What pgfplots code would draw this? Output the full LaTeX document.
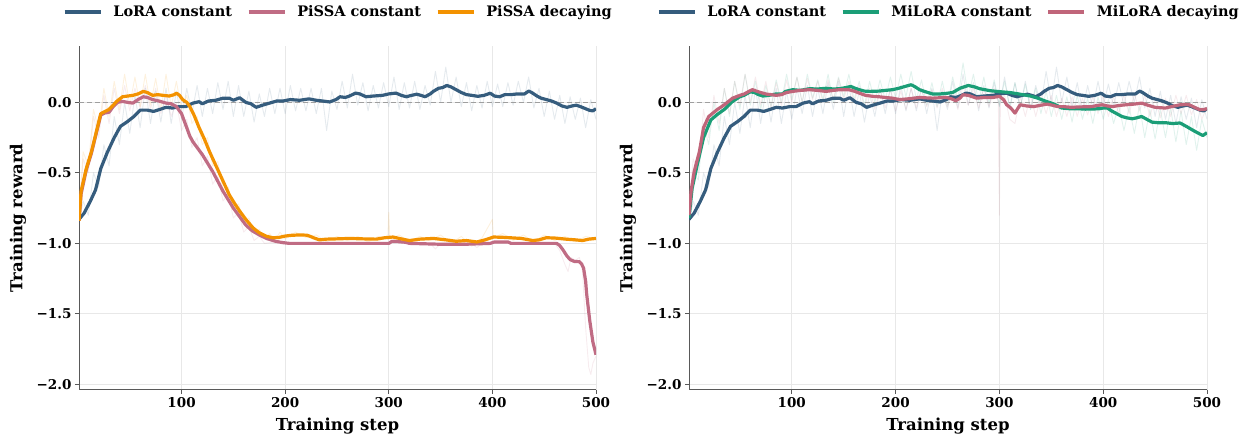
\documentclass[border=0pt]{standalone}
\usepackage{fontspec}
\setmainfont{DejaVu Serif}
\usepackage{pgfplots}
\pgfplotsset{compat=1.18}
\usepackage{pgfplotstable}

\definecolor{cLoRA}{HTML}{355C7D}
\definecolor{cPiSSA}{HTML}{C06C84}
\definecolor{cDecay}{HTML}{F39200}
\definecolor{cMiLoRA}{HTML}{1B9E77}
\definecolor{cMiDec}{HTML}{C0657A}

% smoothed curves
\pgfplotstableread{
step val
1 -0.83
6 -0.785
12 -0.70
17 -0.62
22 -0.47
28 -0.36
35 -0.25
41 -0.17
48 -0.135
54 -0.10
60 -0.055
67 -0.055
73 -0.064
79 -0.05
85 -0.035
91 -0.04
98 -0.03
104 -0.03
111 -0.005
117 0.005
120 -0.01
126 0.01
133 0.015
140 0.03
146 0.03
150 0.015
156 0.033
162 0.0
167 -0.01
172 -0.035
178 -0.02
185 -0.005
192 0.01
198 0.01
205 0.02
214 0.015
223 0.025
230 0.015
236 0.01
243 0.003
249 0.02
253 0.04
258 0.035
262 0.045
268 0.066
272 0.06
278 0.04
285 0.045
294 0.05
300 0.06
307 0.066
312 0.05
317 0.04
322 0.05
327 0.058
331 0.05
335 0.04
340 0.06
343 0.078
348 0.10
352 0.105
356 0.12
360 0.11
365 0.09
370 0.07
375 0.055
380 0.05
386 0.043
392 0.05
398 0.065
402 0.045
407 0.04
412 0.055
418 0.055
424 0.06
431 0.06
435 0.08
438 0.07
443 0.045
447 0.03
452 0.02
457 0.01
462 -0.005
467 -0.025
472 -0.035
477 -0.025
481 -0.02
485 -0.03
490 -0.045
494 -0.057
497 -0.06
500 -0.045
}\tLoRA

\pgfplotstableread{
step val
1 -0.84
3 -0.63
8 -0.47
13 -0.35
18 -0.20
22 -0.08
26 -0.065
30 -0.05
34 -0.02
37 0.005
43 0.04
48 0.045
53 0.05
58 0.06
63 0.078
67 0.07
72 0.05
77 0.055
82 0.05
88 0.045
93 0.055
95 0.066
98 0.05
101 0.02
105 0.0
108 -0.03
112 -0.09
117 -0.18
122 -0.26
127 -0.35
132 -0.43
137 -0.51
142 -0.59
146 -0.655
151 -0.715
156 -0.77
162 -0.83
169 -0.89
175 -0.925
182 -0.95
188 -0.96
194 -0.958
200 -0.948
206 -0.943
214 -0.94
221 -0.942
224 -0.95
228 -0.962
233 -0.975
240 -0.97
250 -0.968
262 -0.965
275 -0.968
288 -0.97
296 -0.96
304 -0.955
312 -0.968
320 -0.98
330 -0.97
343 -0.965
355 -0.975
365 -0.985
375 -0.98
385 -0.99
393 -0.975
401 -0.955
410 -0.957
417 -0.96
428 -0.965
439 -0.98
445 -0.975
452 -0.96
460 -0.962
471 -0.97
480 -0.975
487 -0.98
493 -0.97
500 -0.965
}\tPiDec

\pgfplotstableread{
step val
1 -0.84
3 -0.65
8 -0.48
13 -0.36
18 -0.21
22 -0.09
26 -0.075
30 -0.07
34 -0.03
38 0.0
43 0.007
48 0.0
53 -0.005
58 0.02
63 0.04
67 0.035
72 0.02
78 0.01
85 -0.005
90 -0.01
95 -0.03
100 -0.08
104 -0.16
108 -0.24
111 -0.28
115 -0.32
120 -0.37
125 -0.43
130 -0.49
135 -0.56
140 -0.63
145 -0.69
150 -0.75
156 -0.81
162 -0.87
168 -0.91
175 -0.94
182 -0.965
191 -0.986
198 -0.995
204 -1.0
300 -1.0
303 -0.986
310 -0.988
316 -0.992
320 -1.0
349 -1.006
375 -1.006
398 -1.0
402 -0.99
415 -0.99
418 -1.0
462 -1.0
465 -1.015
468 -1.045
472 -1.09
475 -1.115
479 -1.128
484 -1.13
486 -1.145
488 -1.175
490 -1.27
491 -1.36
494 -1.55
497 -1.70
500 -1.79
}\tPiCon

\pgfplotstableread{
step val
1 -0.82
4 -0.61
9 -0.44
15 -0.25
22 -0.125
28 -0.087
35 -0.05
43 0.007
50 0.04
54 0.05
60 0.075
64 0.07
68 0.055
72 0.045
78 0.05
85 0.06
91 0.06
94 0.078
101 0.09
108 0.085
117 0.097
125 0.095
133 0.10
140 0.095
146 0.097
152 0.105
157 0.113
161 0.1
165 0.09
170 0.08
175 0.078
184 0.08
190 0.085
197 0.09
203 0.1
210 0.115
215 0.125
219 0.11
223 0.09
229 0.075
236 0.059
243 0.06
249 0.064
255 0.07
262 0.10
266 0.11
270 0.12
276 0.11
281 0.097
286 0.09
291 0.083
300 0.076
310 0.07
317 0.062
323 0.054
330 0.045
337 0.03
344 0.01
350 -0.005
355 -0.02
360 -0.04
368 -0.045
376 -0.045
383 -0.048
390 -0.047
396 -0.045
400 -0.04
404 -0.04
408 -0.06
413 -0.08
418 -0.10
423 -0.11
428 -0.116
432 -0.11
437 -0.10
442 -0.12
447 -0.14
454 -0.145
461 -0.145
467 -0.15
474 -0.146
480 -0.17
487 -0.2
492 -0.22
496 -0.235
500 -0.215
}\tMiCon

\pgfplotstableread{
step val
1 -0.80
3 -0.63
6 -0.49
11 -0.35
15 -0.18
20 -0.10
28 -0.052
35 -0.017
43 0.03
50 0.05
54 0.059
58 0.075
62 0.09
64 0.085
70 0.07
76 0.058
80 0.055
85 0.05
90 0.055
95 0.07
101 0.078
108 0.085
117 0.09
125 0.085
133 0.078
140 0.085
146 0.09
155 0.09
160 0.08
165 0.066
171 0.05
178 0.043
184 0.04
190 0.035
197 0.03
204 0.02
213 0.026
223 0.035
230 0.032
236 0.03
243 0.033
249 0.035
254 0.025
258 0.012
262 0.03
265 0.054
270 0.05
278 0.03
286 0.035
294 0.035
300 0.043
304 0.02
307 -0.017
311 -0.04
315 -0.076
318 -0.04
320 -0.017
326 -0.025
333 -0.03
340 -0.02
346 -0.012
351 -0.02
356 -0.03
362 -0.03
369 -0.035
378 -0.032
389 -0.03
394 -0.022
399 -0.017
404 -0.025
409 -0.03
415 -0.022
422 -0.017
430 -0.012
437 -0.005
443 -0.02
450 -0.035
455 -0.038
460 -0.04
467 -0.028
474 -0.017
479 -0.015
483 -0.017
488 -0.035
493 -0.052
497 -0.05
500 -0.045
}\tMiDec

% faint raw traces
\pgfplotstableread{
step val
1 -0.85
5 -0.7
10 -0.8
15 -0.5
20 -0.6
25 -0.3
30 -0.45
35 -0.1
40 -0.3
45 0.0
50 -0.22
55 0.05
60 -0.18
65 0.1
70 -0.15
75 0.08
80 -0.14
85 0.1
90 -0.15
95 0.08
100 -0.12
105 0.1
110 -0.08
115 0.12
120 -0.1
125 0.1
130 -0.08
135 0.14
140 -0.05
145 0.15
150 -0.1
155 0.12
160 -0.1
165 0.08
170 -0.14
175 0.06
180 -0.1
185 0.1
190 -0.08
195 0.1
200 -0.08
205 0.12
210 -0.06
215 0.1
220 -0.06
225 0.1
230 -0.08
235 0.1
240 -0.2
245 0.08
250 -0.05
255 0.15
260 -0.04
265 0.2
270 -0.02
275 0.14
280 -0.06
285 0.12
290 -0.04
295 0.14
300 -0.03
305 0.18
310 -0.05
315 0.14
320 -0.04
325 0.15
330 -0.05
335 0.12
340 -0.02
345 0.22
350 0.0
355 0.25
360 0.0
365 0.18
370 -0.03
375 0.14
380 -0.06
385 0.12
390 -0.04
395 0.15
400 -0.03
405 0.13
410 -0.03
415 0.14
420 -0.02
425 0.15
430 0.0
435 0.18
440 -0.04
445 0.1
450 -0.1
455 0.08
460 -0.12
465 0.05
470 -0.15
475 0.04
480 -0.12
485 0.03
490 -0.18
495 0.02
500 -0.12
}\rLoRA

\pgfplotstableread{
step val
1 -0.8
5 -0.35
10 -0.45
15 -0.05
20 -0.2
25 0.1
30 -0.1
35 0.15
40 -0.05
45 0.2
50 -0.02
55 0.18
60 -0.03
65 0.2
70 -0.02
75 0.17
80 -0.05
85 0.2
90 -0.03
95 0.15
100 -0.05
105 0.05
110 -0.15
115 -0.1
120 -0.3
125 -0.25
130 -0.45
135 -0.42
140 -0.62
145 -0.6
150 -0.75
155 -0.72
160 -0.85
165 -0.82
170 -0.93
175 -0.9
180 -0.97
185 -0.93
190 -0.98
195 -0.92
200 -0.97
210 -0.92
220 -0.96
230 -0.94
240 -0.99
250 -0.95
260 -0.98
270 -0.95
280 -0.99
290 -0.95
299 -0.97
300 -0.78
301 -0.97
310 -0.94
320 -0.99
330 -0.95
340 -0.98
350 -0.94
360 -1.0
370 -0.95
380 -1.02
390 -0.96
400 -0.83
401 -0.96
410 -0.93
420 -0.98
430 -0.94
440 -0.99
450 -0.94
460 -0.98
470 -0.95
480 -0.99
490 -0.95
500 -0.97
}\rPiDec

\pgfplotstableread{
step val
1 -0.82
5 -0.4
10 -0.5
15 -0.1
20 -0.25
25 0.05
30 -0.15
35 0.1
40 -0.08
45 0.12
50 -0.06
55 0.1
60 -0.04
65 0.12
70 -0.05
75 0.1
80 -0.08
85 0.05
90 -0.1
95 0.0
100 -0.2
105 -0.12
110 -0.32
115 -0.25
120 -0.45
125 -0.38
130 -0.58
135 -0.52
140 -0.7
145 -0.65
150 -0.82
155 -0.78
160 -0.92
165 -0.88
170 -0.98
175 -0.95
180 -1.0
190 -0.99
200 -1.0
300 -1.0
305 -0.97
310 -1.0
340 -1.0
345 -1.04
350 -1.0
380 -1.0
385 -1.03
390 -1.0
460 -1.0
465 -1.05
470 -1.15
473 -1.2
476 -1.1
480 -1.12
484 -1.1
487 -1.2
490 -1.6
493 -1.88
495 -1.93
497 -1.85
500 -1.8
}\rPiCon

\pgfplotstableread{
step val
1 -0.8
5 -0.5
10 -0.55
15 -0.15
20 -0.3
25 0.0
30 -0.2
35 0.1
40 -0.1
45 0.15
50 -0.05
55 0.2
60 -0.02
65 0.15
70 -0.05
75 0.12
80 -0.03
85 0.16
90 0.0
95 0.2
100 0.02
105 0.18
110 0.0
115 0.2
120 0.03
125 0.16
130 0.02
135 0.2
140 0.0
145 0.18
150 0.04
155 0.2
160 0.02
165 0.15
170 -0.02
175 0.15
180 0.0
185 0.16
190 0.02
195 0.18
200 0.03
205 0.2
210 0.04
215 0.22
220 0.02
225 0.16
230 -0.02
235 0.14
240 -0.03
245 0.15
250 -0.02
255 0.18
260 0.02
265 0.28
270 0.04
275 0.2
280 0.0
285 0.18
290 -0.01
295 0.16
300 -0.02
305 0.15
310 -0.03
315 0.14
320 -0.04
325 0.13
330 -0.05
335 0.1
340 -0.08
345 0.08
350 -0.1
355 0.05
360 -0.12
365 0.04
370 -0.14
375 0.05
380 -0.12
385 0.03
390 -0.15
395 0.04
400 -0.12
405 0.02
410 -0.15
415 -0.02
420 -0.2
425 -0.03
430 -0.22
435 -0.02
440 -0.25
445 -0.05
450 -0.26
455 -0.05
460 -0.25
465 -0.04
470 -0.28
475 -0.06
480 -0.3
485 -0.1
490 -0.34
495 -0.12
500 -0.25
}\rMiCon

\pgfplotstableread{
step val
1 -0.75
5 -0.4
10 -0.5
15 -0.05
20 -0.25
25 0.05
30 -0.15
35 0.1
40 -0.08
45 0.15
50 -0.02
55 0.2
60 0.0
65 0.18
70 -0.02
75 0.15
80 -0.04
85 0.14
90 -0.02
95 0.16
100 0.0
105 0.18
110 0.0
115 0.17
120 0.02
125 0.15
130 0.0
135 0.16
140 0.02
145 0.17
150 0.02
155 0.15
160 0.0
165 0.12
170 -0.04
175 0.1
180 -0.05
185 0.1
190 -0.04
195 0.09
200 -0.06
205 0.08
210 -0.05
215 0.1
220 -0.04
225 0.1
230 -0.03
235 0.09
240 -0.04
245 0.1
250 -0.03
255 0.08
260 -0.05
265 0.12
270 -0.02
275 0.1
280 -0.04
285 0.1
290 -0.03
295 0.1
299 0.0
300 -0.8
301 0.0
305 0.05
310 -0.12
315 -0.15
320 0.04
325 -0.1
330 0.05
335 -0.1
340 0.04
345 -0.08
350 0.05
355 -0.1
360 0.03
365 -0.1
370 0.04
375 -0.1
380 0.03
385 -0.09
390 0.04
395 -0.08
400 0.05
405 -0.1
410 0.04
415 -0.08
420 0.05
425 -0.08
430 0.06
435 -0.06
440 0.05
445 -0.1
450 0.03
455 -0.11
460 0.03
465 -0.1
470 0.05
475 -0.08
480 0.05
485 -0.09
490 0.02
495 -0.12
500 -0.03
}\rMiDec

\pgfplotsset{
  myax/.style={
    scale only axis, width=517pt, height=344pt,
    xmin=1, xmax=500, ymin=-2.04, ymax=0.40,
    axis x line*=bottom, axis y line*=left,
    axis line style={black!65, line width=1pt},
    tick style={black!65, line width=1pt},
    major tick length=4pt, tick align=outside,
    xtick={100,200,300,400,500},
    xticklabels={100,200,300,400,500},
    ytick={-2,-1.5,-1,-0.5,0},
    yticklabels={−2.0,−1.5,−1.0,−0.5,0.0},
    grid=major, major grid style={gray!18, line width=0.8pt},
    tick label style={font=\bfseries\fontsize{13.5}{16}\selectfont},
    xlabel={Training step}, ylabel={Training reward},
    every axis x label/.style={at={(axis description cs:0.5,-0.105)}, anchor=center,
      font=\bfseries\fontsize{16.5}{20}\selectfont},
    every axis y label/.style={at={(axis description cs:-0.118,0.5)}, anchor=center, rotate=90,
      font=\bfseries\fontsize{16.5}{20}\selectfont},
    legend columns=3,
    legend style={at={(0.5,1.099)}, anchor=center, draw=none, fill=none,
      font=\bfseries\fontsize{14.5}{17}\selectfont,
      nodes={inner sep=0pt},
      /tikz/every odd column/.append style={column sep=11pt},
      /tikz/every even column/.append style={column sep=15pt}},
    legend image code/.code={\draw[##1] (0pt,0pt) -- (36pt,0pt);},
    every axis plot/.append style={line width=3.2pt, line join=round},
    raw/.style={line width=0.9pt, opacity=0.13, forget plot},
  }
}

\begin{document}
\begin{tikzpicture}
\useasboundingbox (0,0) rectangle (1242pt,436pt);
\begin{axis}[myax, at={(79pt,46pt)}, anchor=south west]
\addplot[cLoRA, raw] table[x=step,y=val] {\rLoRA};
\addplot[cPiSSA, raw] table[x=step,y=val] {\rPiCon};
\addplot[cDecay, raw] table[x=step,y=val] {\rPiDec};
\addplot[gray!75, dash pattern=on 5pt off 3pt, line width=1pt, forget plot] coordinates {(1,0) (500,0)};
\addplot[cLoRA] table[x=step,y=val] {\tLoRA};
\addlegendentry{LoRA constant}
\addplot[cPiSSA] table[x=step,y=val] {\tPiCon};
\addlegendentry{PiSSA constant}
\addplot[cDecay] table[x=step,y=val] {\tPiDec};
\addlegendentry{PiSSA decaying}
\end{axis}
\begin{axis}[myax, width=518pt, at={(689pt,46pt)}, anchor=south west]
\addplot[cLoRA, raw] table[x=step,y=val] {\rLoRA};
\addplot[cMiLoRA, raw] table[x=step,y=val] {\rMiCon};
\addplot[cMiDec, raw] table[x=step,y=val] {\rMiDec};
\addplot[gray!75, dash pattern=on 5pt off 3pt, line width=1pt, forget plot] coordinates {(1,0) (500,0)};
\addplot[cLoRA] table[x=step,y=val] {\tLoRA};
\addlegendentry{LoRA constant}
\addplot[cMiLoRA] table[x=step,y=val] {\tMiCon};
\addlegendentry{MiLoRA constant}
\addplot[cMiDec] table[x=step,y=val] {\tMiDec};
\addlegendentry{MiLoRA decaying}
\end{axis}
\end{tikzpicture}
\end{document}
